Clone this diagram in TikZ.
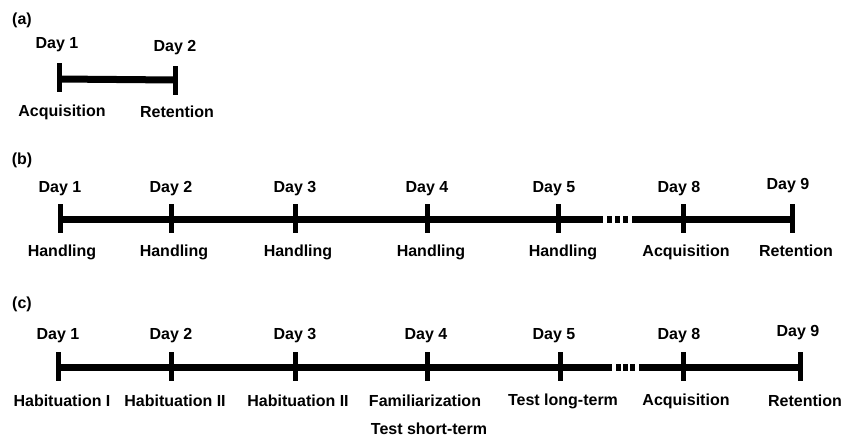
\documentclass[tikz,border=0pt]{standalone}
\usepackage{fontspec}
\setmainfont{Liberation Sans}
\begin{document}
\begin{tikzpicture}[x=1pt,y=-1pt,
  lbl/.style={font=\fontsize{16}{18}\selectfont\bfseries, inner sep=0pt, anchor=center},
  bar/.style={line width=7pt, line cap=butt},
  tickmark/.style={line width=5pt, line cap=butt},
  gapdash/.style={line width=7pt, line cap=butt, dash pattern=on 5pt off 3pt}]
\useasboundingbox[fill=white] (0,0) rectangle (853,437);

% ---------- (a) ----------
\node[lbl] (pa) at (22,20) {(a)};
\coordinate (a1) at (59,79);
\coordinate (a2) at (175,80);
\coordinate (a1t) at (59,63); \coordinate (a1b) at (59,92);
\coordinate (a2t) at (175,66); \coordinate (a2b) at (175,95);
\draw[bar] (a1) -- (a2);
\draw[tickmark] (a1t) -- (a1b);
\draw[tickmark] (a2t) -- (a2b);
\node[lbl] (ad1) at (57,45) {Day 1};
\node[lbl] (ad2) at (175,48) {Day 2};
\node[lbl] (al1) at (62,112) {Acquisition};
\node[lbl] (al2) at (177,112) {Retention};

% ---------- (b) ----------
\node[lbl] (pb) at (22,160) {(b)};
\foreach \n/\x in {1/60,2/171,3/295,4/427,5/558,8/683,9/792}{
  \coordinate (b\n) at (\x,219);
  \coordinate (b\n t) at (\x,204);
  \coordinate (b\n b) at (\x,233);
  \draw[tickmark] (b\n t) -- (b\n b);
}
\coordinate (bgL) at (603,219);
\coordinate (bdL) at (607,219);
\coordinate (bdR) at (628,219);
\coordinate (bgR) at (632,219);
\draw[bar] (b1) -- (bgL);
\draw[gapdash] (bdL) -- (bdR);
\draw[bar] (bgR) -- (b9);
\foreach \n/\x/\y in {1/60/189,2/171/189,3/295/189,4/427/189,5/554/189,8/679/189,9/788/186}{
  \node[lbl] (bd\n) at (\x,\y) {Day \n};
}
\node[lbl] (bl1) at (62,252) {Handling};
\node[lbl] (bl2) at (174,252) {Handling};
\node[lbl] (bl3) at (298,252) {Handling};
\node[lbl] (bl4) at (431,252) {Handling};
\node[lbl] (bl5) at (563,252) {Handling};
\node[lbl] (bl8) at (686,252) {Acquisition};
\node[lbl] (bl9) at (796,251) {Retention};

% ---------- (c) ----------
\node[lbl] (pc) at (22,304) {(c)};
\foreach \n/\x in {1/58,2/171,3/295,4/427,5/560,8/683,9/800}{
  \coordinate (c\n) at (\x,367);
  \coordinate (c\n t) at (\x,352);
  \coordinate (c\n b) at (\x,381);
  \draw[tickmark] (c\n t) -- (c\n b);
}
\coordinate (cgL) at (612,367);
\coordinate (cdL) at (616,367);
\coordinate (cdR) at (635,367);
\coordinate (cgR) at (639,367);
\draw[bar] (c1) -- (cgL);
\draw[gapdash, dash pattern=on 5pt off 2pt] (cdL) -- (cdR);
\draw[bar] (cgR) -- (c9);
\foreach \n/\x/\y in {1/58/336,2/171/336,3/295/336,4/426/336,5/554/336,8/679/336,9/798/333}{
  \node[lbl] (cd\n) at (\x,\y) {Day \n};
}
\node[lbl] (cl1) at (62,401) {Habituation I};
\node[lbl] (cl2) at (175,401) {Habituation II};
\node[lbl] (cl3) at (298,401) {Habituation II};
\node[lbl] (cl4) at (425,401) {Familiarization};
\node[lbl] (cl4b) at (429,429) {Test short-term};
\node[lbl] (cl5) at (563,401) {Test long-term};
\node[lbl] (cl8) at (686,401) {Acquisition};
\node[lbl] (cl9) at (805,401) {Retention};
\end{tikzpicture}
\end{document}
